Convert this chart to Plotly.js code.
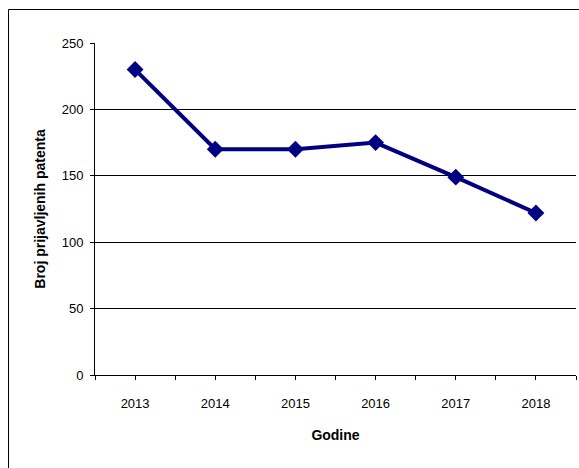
<!DOCTYPE html>
<html>
<head>
<meta charset="utf-8">
<script src="https://cdn.plot.ly/plotly-3.0.1.min.js"></script>
<style>
html, body { margin: 0; padding: 0; background: #fff; }
#chart { width: 579px; height: 468px; }
</style>
</head>
<body>
<div id="chart"></div>
<script>
var years = [2013, 2014, 2015, 2016, 2017, 2018];
var patents = [230, 170, 170, 175, 149, 122];
var yTicks = [0, 50, 100, 150, 200, 250];
var xTitle = 'Godine';
var yTitle = 'Broj prijavljenih patenta';

var W = 579, H = 468;
var mL = 95, mR = 3, mT = 43, mB = 93;
var pw = W - mL - mR, ph = H - mT - mB;
function px(x) { return (x - mL) / pw; }
function py(y) { return (H - mB - y) / ph; }

var trace = {
  x: years,
  y: patents,
  type: 'scatter',
  mode: 'lines+markers',
  line: { color: '#000080', width: 4 },
  marker: { symbol: 'diamond', size: 13, color: '#000080' },
  hoverinfo: 'x+y'
};

var font = { family: 'Liberation Sans, Arial, sans-serif', size: 13, color: '#000' };
var titleFont = { family: 'Liberation Sans, Arial, sans-serif', size: 14, color: '#000', weight: 'bold' };

var layout = {
  width: W,
  height: H,
  margin: { l: mL, r: mR, t: mT, b: mB, pad: 0 },
  paper_bgcolor: '#fff',
  plot_bgcolor: '#fff',
  showlegend: false,
  font: font,
  xaxis: {
    range: [2012.5, 2018.5],
    tickvals: years,
    ticktext: years.map(String),
    ticks: 'outside',
    ticklen: 4,
    tickcolor: '#000',
    tickwidth: 1,
    ticklabelstandoff: 12,
    showgrid: false,
    zeroline: false,
    showline: true,
    linecolor: '#000',
    linewidth: 1,
    minor: { tickvals: [2012.5, 2013.5, 2014.5, 2015.5, 2016.5, 2017.5, 2018.5], ticks: 'outside', ticklen: 4, tickcolor: '#000', showgrid: false },
    tickfont: font,
    title: { text: xTitle, font: titleFont, standoff: 20 }
  },
  yaxis: {
    range: [0, 250],
    tickvals: yTicks,
    ticks: 'outside',
    ticklen: 4,
    tickcolor: '#000',
    ticklabelstandoff: 4,
    showgrid: true,
    gridcolor: '#000',
    gridwidth: 1,
    zeroline: false,
    showline: true,
    linecolor: '#000',
    linewidth: 1,
    tickfont: font,
    title: { text: yTitle, font: titleFont, standoff: 12 }
  },
  shapes: [
    { type: 'rect', xref: 'paper', yref: 'paper', layer: 'below',
      x0: px(8.5), x1: px(600), y0: py(490), y1: py(9.5),
      line: { color: '#000', width: 1 }, fillcolor: 'rgba(0,0,0,0)' }
  ]
};

Plotly.newPlot('chart', [trace], layout, { displayModeBar: false, staticPlot: true });
</script>
</body>
</html>
